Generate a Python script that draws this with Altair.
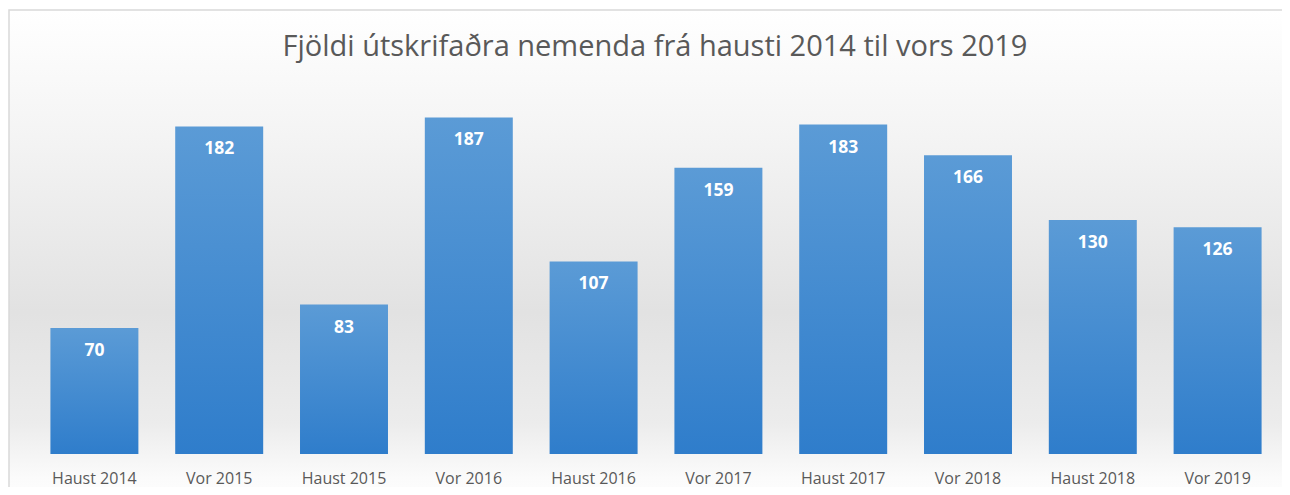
import altair as alt
import pandas as pd

categories = ["Haust 2014", "Vor 2015", "Haust 2015", "Vor 2016", "Haust 2016",
              "Vor 2017", "Haust 2017", "Vor 2018", "Haust 2018", "Vor 2019"]
values = [70, 182, 83, 187, 107, 159, 183, 166, 130, 126]
title_text = "Fjöldi útskrifaðra nemenda frá hausti 2014 til vors 2019"

df = pd.DataFrame({"cat": categories, "val": values})

W, H = 1248, 360
FONT = "Open Sans"

bg_grad = alt.Gradient(
    gradient="linear", x1=0, y1=0, x2=0, y2=1,
    stops=[
        alt.GradientStop(offset=0.0, color="#ffffff"),
        alt.GradientStop(offset=0.25, color="#f4f4f4"),
        alt.GradientStop(offset=0.6, color="#e2e2e2"),
        alt.GradientStop(offset=0.82, color="#ececec"),
        alt.GradientStop(offset=0.93, color="#fbfbfb"),
        alt.GradientStop(offset=1.0, color="#ffffff"),
    ],
)
bar_grad = alt.Gradient(
    gradient="linear", x1=0, y1=0, x2=0, y2=1,
    stops=[
        alt.GradientStop(offset=0.0, color="#5b9bd6"),
        alt.GradientStop(offset=1.0, color="#2f7dcb"),
    ],
)

xenc = alt.X("cat:N", sort=categories, title=None,
             scale=alt.Scale(paddingInner=0.295, paddingOuter=0.1475),
             axis=alt.Axis(domain=False, ticks=False, labelAngle=0, labelFont=FONT,
                           labelFontSize=16, labelColor="#595959", labelPadding=24,
                           labelBaseline="middle", zindex=2))
yenc = alt.Y("val:Q", scale=alt.Scale(domain=[0, 200], nice=False), title=None,
             axis=None)

background = alt.Chart(pd.DataFrame({"k": [0]})).mark_rect(
    fill=bg_grad, stroke="#d9d9d9", strokeWidth=1.5
).encode(
    x=alt.value(-23), x2=alt.value(W + 30),
    y=alt.value(-84), y2=alt.value(H + 60),
)

title = alt.Chart(pd.DataFrame({"t": [title_text]})).mark_text(
    font=FONT, fontSize=29, color="#595959", baseline="middle", align="center"
).encode(x=alt.value(W / 2 - 1), y=alt.value(-47), text="t:N")

bars = alt.Chart(df).mark_bar(fill=bar_grad).encode(x=xenc, y=yenc)

labels = alt.Chart(df).mark_text(
    color="white", fontWeight="bold", font=FONT, fontSize=17.5,
    baseline="middle", dy=23
).encode(x=alt.X("cat:N", sort=categories), y="val:Q", text="val:Q")

chart = alt.layer(background, title, bars, labels).properties(
    width=W, height=H,
    autosize=alt.AutoSizeParams(type="none"),
    padding={"left": 24, "top": 86, "right": 2, "bottom": 33},
).configure_view(stroke=None).configure(background="white")

chart.save("out.html", embed_options={"renderer": "svg", "actions": False})
